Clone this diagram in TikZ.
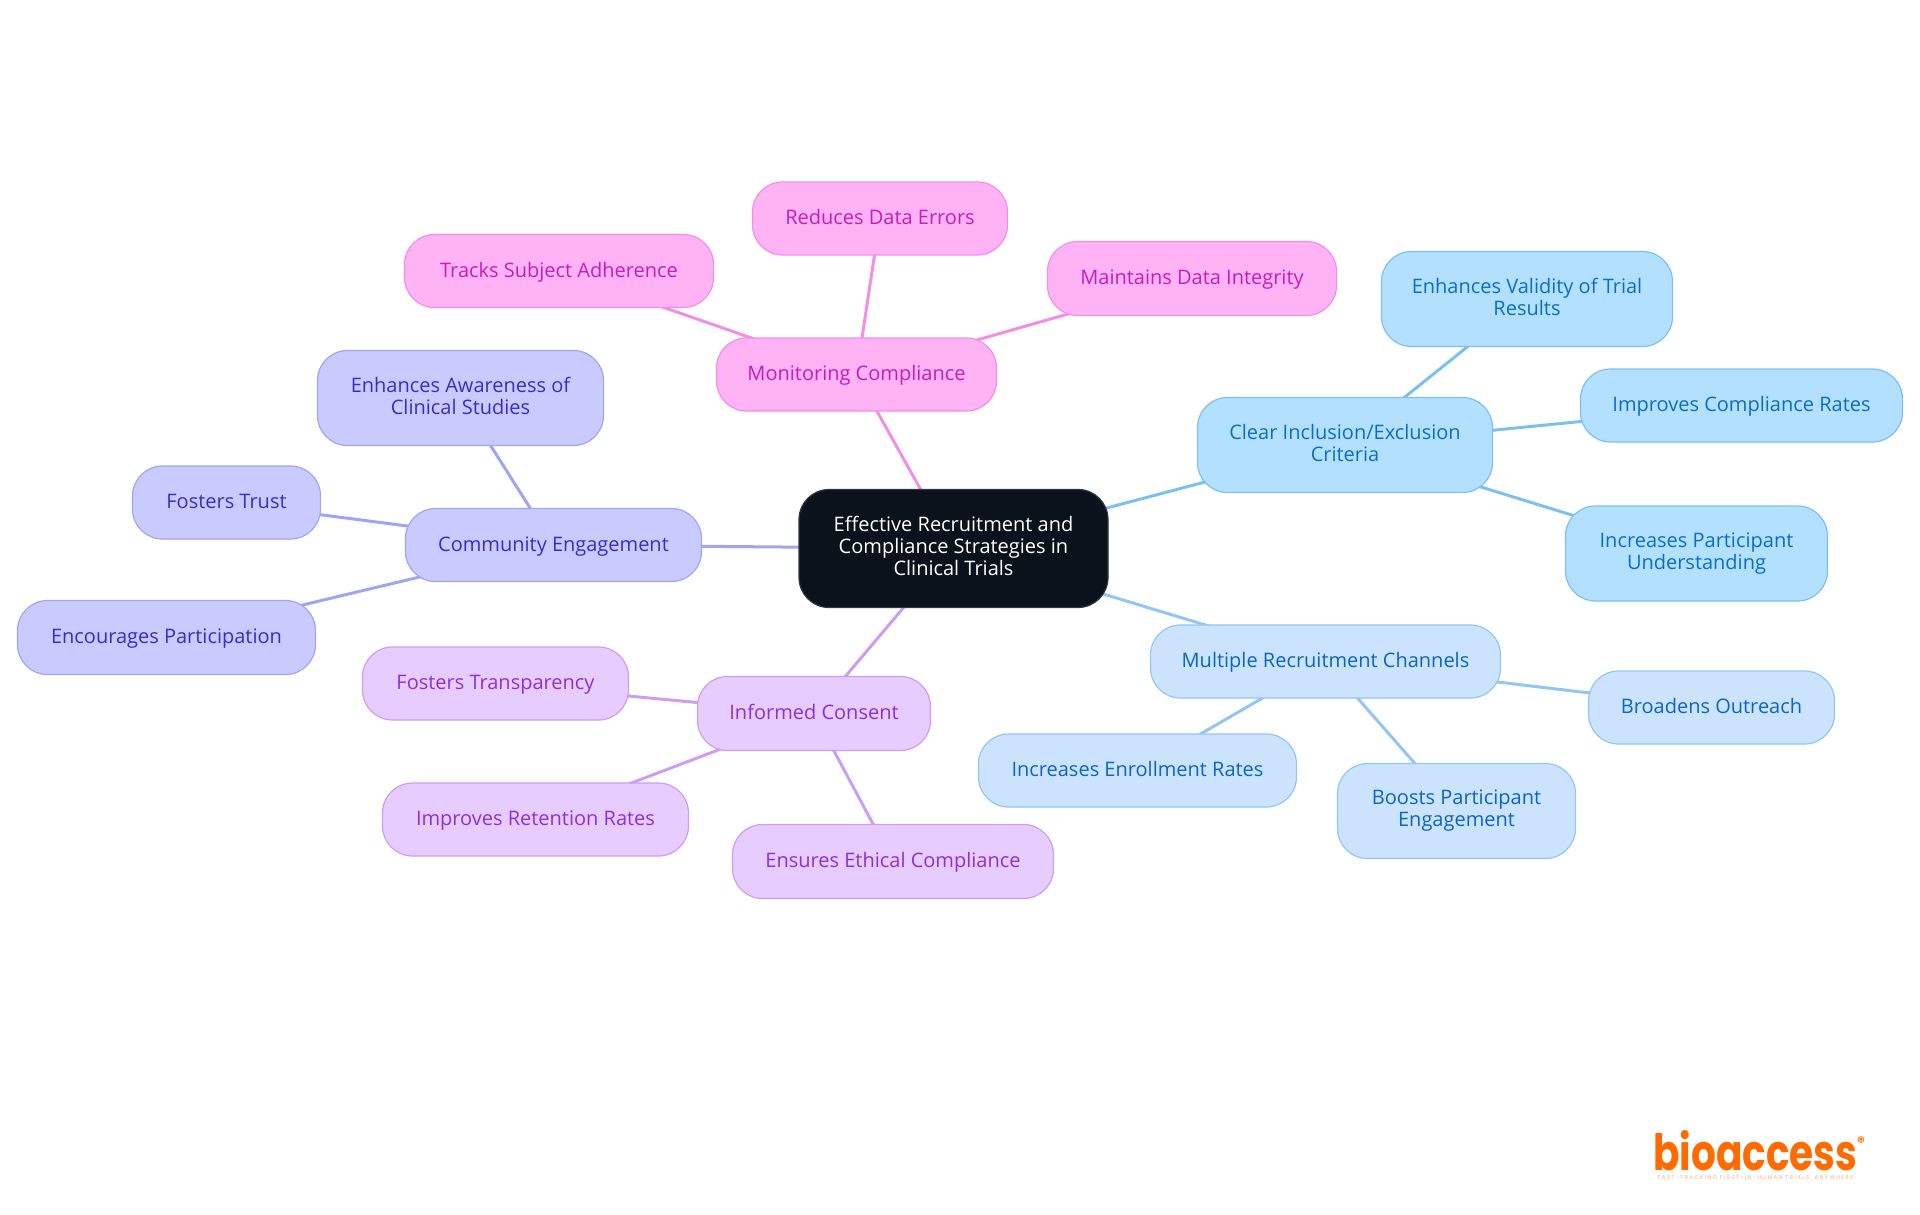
\documentclass[tikz,border=0pt]{standalone}
\usepackage{fontspec}
\usetikzlibrary{backgrounds}
\setmainfont{Open Sans}
\newfontfamily\logofont[FakeStretch=0.78]{Poppins}
\newfontfamily\tagfont[LetterSpace=25]{Poppins}
\newfontfamily\regfont{Poppins}
\definecolor{rootfill}{HTML}{0B121B}
\definecolor{cfill}{HTML}{B3E0FF}\definecolor{cline}{HTML}{7CC0F2}\definecolor{ctext}{HTML}{0A6FC2}
\definecolor{mfill}{HTML}{CCE3FD}\definecolor{mline}{HTML}{93C5F5}\definecolor{mtext}{HTML}{0A66C2}
\definecolor{gfill}{HTML}{C9CBFF}\definecolor{gline}{HTML}{A0A4F5}\definecolor{gtext}{HTML}{3A2CC8}
\definecolor{ifill}{HTML}{E7CCFF}\definecolor{iline}{HTML}{CC9DF2}\definecolor{itext}{HTML}{8E30D6}
\definecolor{pfill}{HTML}{FFB3F5}\definecolor{pline}{HTML}{F28FE5}\definecolor{ptext}{HTML}{C41DBB}
\definecolor{logoorange}{HTML}{FF6B00}
\def\pillh{18pt}\def\pilld{6pt}
\newcommand{\pillstrut}{\vrule width 0pt height \pillh\space depth \pilld\relax}
\tikzset{
  x=1pt,y=-1pt,
  pill/.style={rounded corners=30pt,inner sep=0pt,align=center,line width=1.2pt,
    font=\fontsize{20}{22}\selectfont,
    execute at begin node=\pillstrut,execute at end node=\pillstrut},
  low/.code={\def\pillh{19pt}\def\pilld{5pt}},
  lower/.code={\def\pillh{20pt}\def\pilld{4pt}},
  rootbox/.style={pill,fill=rootfill,draw=rootfill!85!white,text=white},
  cbox/.style={pill,fill=cfill,draw=cline,text=ctext},
  mbox/.style={pill,fill=mfill,draw=mline,text=mtext},
  gbox/.style={pill,fill=gfill,draw=gline,text=gtext},
  ibox/.style={pill,fill=ifill,draw=iline,text=itext},
  pbox/.style={pill,fill=pfill,draw=pline,text=ptext},
  link/.style={line width=3pt},
  sz/.style n args={2}{minimum width=#1pt,minimum height=#2pt},
}
\begin{document}
\begin{tikzpicture}
\useasboundingbox (0,0) rectangle (1920,1215);
\node[rootbox,low,sz={309}{118}] (root) at (953.5,548.5) {Effective Recruitment and\\Compliance Strategies in\\Clinical Trials};
% Clear inclusion
\node[cbox,lower,sz={295}{95}] (c) at (1345,445) {Clear Inclusion/Exclusion\\Criteria};
\node[cbox,low,sz={291}{95}] (c1) at (1527,299) {Enhances Validity of Trial\\Results};
\node[cbox,sz={322}{73}] (c2) at (1741.5,405.5) {Improves Compliance Rates};
\node[cbox,low,sz={262}{95}] (c3) at (1696.5,553.5) {Increases Participant\\Understanding};
% Multiple
\node[mbox,sz={350}{73}] (m) at (1325.5,661.5) {Multiple Recruitment Channels};
\node[mbox,sz={246}{73}] (m1) at (1711.5,707.5) {Broadens Outreach};
\node[mbox,sz={318}{73}] (m2) at (1137.5,770.5) {Increases Enrollment Rates};
\node[mbox,sz={238}{95}] (m3) at (1456.5,811) {Boosts Participant\\Engagement};
% Informed
\node[ibox,sz={233}{74}] (i) at (814,713.5) {Informed Consent};
\node[ibox,sz={266}{73}] (i1) at (495.5,683.5) {Fosters Transparency};
\node[ibox,sz={306}{73}] (i2) at (535.5,819.5) {Improves Retention Rates};
\node[ibox,sz={321}{74}] (i3) at (893,861.5) {Ensures Ethical Compliance};
% Community
\node[gbox,sz={296}{73}] (g) at (553.5,545) {Community Engagement};
\node[gbox,low,sz={286}{95}] (g1) at (460.5,398) {Enhances Awareness of\\Clinical Studies};
\node[gbox,sz={188}{73}] (g2) at (226.5,502.5) {Fosters Trust};
\node[gbox,sz={298}{74}] (g3) at (166.5,637.5) {Encourages Participation};
% Monitoring
\node[pbox,sz={280}{73}] (p) at (856.5,374.5) {Monitoring Compliance};
\node[pbox,sz={255}{73}] (p1) at (880,218.5) {Reduces Data Errors};
\node[pbox,sz={309}{73}] (p2) at (559,271) {Tracks Subject Adherence};
\node[pbox,sz={289}{74}] (p3) at (1192,278.5) {Maintains Data Integrity};
\begin{pgfonlayer}{background}
\draw[link,cline] (root.center)--(c.center) (c.center)--(c1.center) (c.center)--(c2.center) (c.center)--(c3.center);
\draw[link,mline] (root.center)--(m.center) (m.center)--(m1.center) (m.center)--(m2.center) (m.center)--(m3.center);
\draw[link,iline] (root.center)--(i.center) (i.center)--(i1.center) (i.center)--(i2.center) (i.center)--(i3.center);
\draw[link,gline] (root.center)--(g.center) (g.center)--(g1.center) (g.center)--(g2.center) (g.center)--(g3.center);
\draw[link,pline] (root.center)--(p.center) (p.center)--(p1.center) (p.center)--(p2.center) (p.center)--(p3.center);
\end{pgfonlayer}
% logo
\node[inner sep=0pt,anchor=base west,text=logoorange,font=\logofont\bfseries\fontsize{50}{50}\selectfont] (logo) at (1653,1170) {bioaccess};
\node[inner sep=0pt,anchor=center,text=logoorange,font=\regfont\bfseries\fontsize{15}{15}\selectfont] (reg) at (1861,1142) {®};
\node[inner sep=0pt,anchor=center,text=logoorange!55!white,font=\tagfont\fontsize{5.5}{6}\selectfont] (tag) at (1755.5,1177.5) {FAST-TRACKING FIRST-IN-HUMAN TRIALS, ANYWHERE};
\end{tikzpicture}
\end{document}
